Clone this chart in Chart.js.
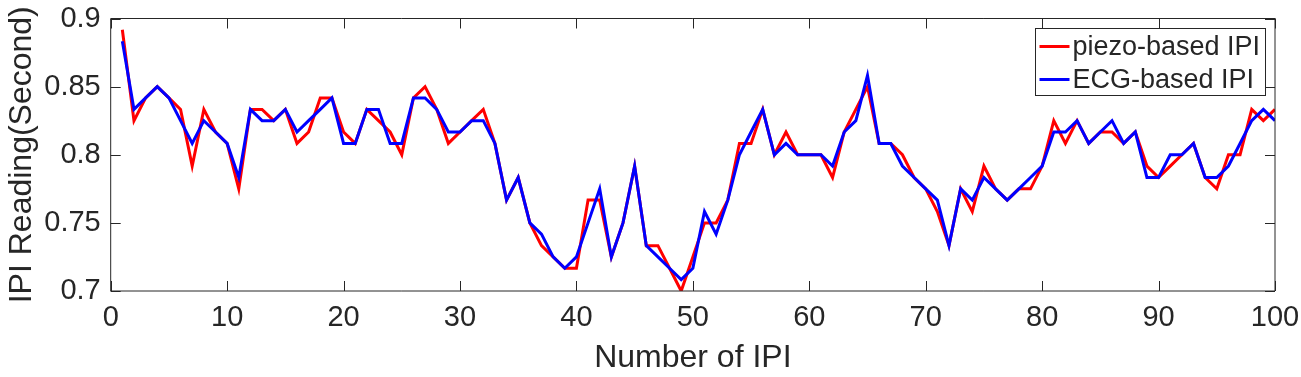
<!DOCTYPE html>
<html>
<head>
<meta charset="utf-8">
<script src="https://cdn.jsdelivr.net/npm/chart.js@4.4.1/dist/chart.umd.min.js"></script>
<style>
  html, body { margin: 0; padding: 0; background: #fff; }
  canvas { display: block; }
</style>
</head>
<body>
<canvas id="ipi-chart" width="1301" height="377"></canvas>
<script>
// IPI readings (seconds), beat number 1..100
const beatNumbers = Array.from({ length: 100 }, (_, i) => i + 1);

const piezoIPI = [
    0.8917, 0.825, 0.8417, 0.85, 0.8417, 0.8333, 0.7917, 0.8333, 0.8167, 0.8083,
    0.775, 0.8333, 0.8333, 0.825, 0.8333, 0.8083, 0.8167, 0.8417, 0.8417, 0.8167,
    0.8083, 0.8333, 0.825, 0.8167, 0.8, 0.8417, 0.85, 0.8333, 0.8083, 0.8167,
    0.825, 0.8333, 0.8083, 0.7667, 0.7833, 0.75, 0.7333, 0.725, 0.7167, 0.7167,
    0.7667, 0.7667, 0.725, 0.75, 0.7917, 0.7333, 0.7333, 0.7167, 0.70, 0.725,
    0.75, 0.75, 0.7667, 0.8083, 0.8083, 0.8333, 0.8, 0.8167, 0.8, 0.8,
    0.8, 0.7833, 0.8167, 0.8333, 0.85, 0.8083, 0.8083, 0.8, 0.7833, 0.775,
    0.7583, 0.7333, 0.775, 0.7583, 0.7917, 0.775, 0.7667, 0.775, 0.775, 0.7917,
    0.825, 0.8083, 0.825, 0.8083, 0.8167, 0.8167, 0.8083, 0.8167, 0.7917, 0.7833,
    0.7917, 0.8, 0.8083, 0.7833, 0.775, 0.8, 0.8, 0.8333, 0.825, 0.8333
];

const ecgIPI = [
    0.8833, 0.8333, 0.8417, 0.85, 0.8417, 0.825, 0.8083, 0.825, 0.8167, 0.8083,
    0.7833, 0.8333, 0.825, 0.825, 0.8333, 0.8167, 0.825, 0.8333, 0.8417, 0.8083,
    0.8083, 0.8333, 0.8333, 0.8083, 0.8083, 0.8417, 0.8417, 0.8333, 0.8167, 0.8167,
    0.825, 0.825, 0.8083, 0.7667, 0.7833, 0.75, 0.7417, 0.725, 0.7167, 0.725,
    0.75, 0.775, 0.725, 0.75, 0.7917, 0.7333, 0.725, 0.7167, 0.7083, 0.7167,
    0.7583, 0.7417, 0.7667, 0.8, 0.8167, 0.8333, 0.8, 0.8083, 0.8, 0.8,
    0.8, 0.7917, 0.8167, 0.825, 0.8583, 0.8083, 0.8083, 0.7917, 0.7833, 0.775,
    0.7667, 0.7333, 0.775, 0.7667, 0.7833, 0.775, 0.7667, 0.775, 0.7833, 0.7917,
    0.8167, 0.8167, 0.825, 0.8083, 0.8167, 0.825, 0.8083, 0.8167, 0.7833, 0.7833,
    0.8, 0.8, 0.8083, 0.7833, 0.7833, 0.7917, 0.8083, 0.825, 0.8333, 0.825
];

const xTicks = [0, 10, 20, 30, 40, 50, 60, 70, 80, 90, 100];
const yTicks = [0.7, 0.75, 0.8, 0.85, 0.9];

const axisColor = '#262626';
const fontFamily = '"Liberation Sans", Arial, Helvetica, sans-serif';

// no extra room for overflowing labels, the layout padding already has it
function fixSize(scale, w, h) {
    if (w) scale.width = w;
    if (h) scale.height = h;
    scale.paddingLeft = 0;
    scale.paddingRight = 0;
    scale.paddingTop = 0;
    scale.paddingBottom = 0;
}

// Box round the plot, inward ticks on all four sides, and the legend box
const framePlugin = {
    id: 'frame',
    afterDatasetsDraw(chart) {
        const { ctx, chartArea: a, scales } = chart;
        const tick = 10;
        ctx.save();
        ctx.strokeStyle = axisColor;
        ctx.lineWidth = 1;
        ctx.beginPath();
        ctx.rect(a.left, a.top, a.right - a.left, a.bottom - a.top);
        xTicks.forEach(v => {
            const px = Math.round(scales.x.getPixelForValue(v)) + 0.5;
            ctx.moveTo(px, a.bottom); ctx.lineTo(px, a.bottom - tick);
            ctx.moveTo(px, a.top); ctx.lineTo(px, a.top + tick);
        });
        yTicks.forEach(v => {
            const py = Math.round(scales.y.getPixelForValue(v)) + 0.5;
            ctx.moveTo(a.left, py); ctx.lineTo(a.left + tick, py);
            ctx.moveTo(a.right, py); ctx.lineTo(a.right - tick, py);
        });
        ctx.stroke();

        // legend
        const boxW = 230, boxH = 67, boxR = a.right - 9.5, boxT = 28.5;
        const boxL = boxR - boxW;
        ctx.fillStyle = '#fff';
        ctx.fillRect(boxL, boxT, boxW, boxH);
        ctx.strokeRect(boxL, boxT, boxW, boxH);
        ctx.font = '27px ' + fontFamily;
        ctx.textBaseline = 'middle';
        chart.data.datasets.forEach((ds, i) => {
            const cy = boxT + 18 + i * 33;
            ctx.strokeStyle = ds.borderColor;
            ctx.lineWidth = 3;
            ctx.beginPath();
            ctx.moveTo(boxL + 4, cy); ctx.lineTo(boxL + 34, cy);
            ctx.stroke();
            ctx.fillStyle = axisColor;
            ctx.fillText(ds.label, boxL + 37, cy + 1);
        });
        ctx.restore();
    }
};

const ctx = document.getElementById('ipi-chart').getContext('2d');
const ipiChart = new Chart(ctx, {
    type: 'line',
    data: {
        labels: beatNumbers,
        datasets: [{
            label: 'piezo-based IPI',
            data: beatNumbers.map((n, i) => ({ x: n, y: piezoIPI[i] })),
            borderColor: 'rgb(255,0,0)',
            borderWidth: 3,
            pointRadius: 0,
            tension: 0,
            order: 2
        }, {
            label: 'ECG-based IPI',
            data: beatNumbers.map((n, i) => ({ x: n, y: ecgIPI[i] })),
            borderColor: 'rgb(0,0,255)',
            borderWidth: 3,
            pointRadius: 0,
            tension: 0,
            order: 1
        }]
    },
    options: {
        responsive: false,
        devicePixelRatio: 1,
        animation: false,
        layout: { padding: { left: 0, right: 26, top: 18.5, bottom: 0 } },
        plugins: {
            legend: { display: false },
            tooltip: { enabled: false }
        },
        scales: {
            x: {
                type: 'linear',
                min: 0,
                max: 100,
                afterFit: scale => fixSize(scale, 0, 86),
                afterBuildTicks: scale => { scale.ticks = xTicks.map(v => ({ value: v })); },
                grid: { display: false, drawTicks: false },
                border: { display: false },
                ticks: {
                    padding: 10,
                    maxRotation: 0,
                    color: axisColor,
                    font: { family: fontFamily, size: 29 }
                },
                title: {
                    display: true,
                    text: 'Number of IPI',
                    color: axisColor,
                    padding: { top: 0, bottom: 0 },
                    font: { family: fontFamily, size: 32 }
                }
            },
            y: {
                min: 0.7,
                max: 0.9,
                afterFit: scale => fixSize(scale, 110.7, 0),
                afterBuildTicks: scale => { scale.ticks = yTicks.map(v => ({ value: v })); },
                grid: { display: false, drawTicks: false },
                border: { display: false },
                ticks: {
                    padding: 10,
                    color: axisColor,
                    font: { family: fontFamily, size: 29 },
                    callback: v => String(+v.toFixed(2))
                },
                title: {
                    display: true,
                    text: 'IPI Reading(Second)',
                    color: axisColor,
                    padding: { top: 3, bottom: 0 },
                    font: { family: fontFamily, size: 32 }
                }
            }
        }
    },
    plugins: [framePlugin]
});
</script>
</body>
</html>
